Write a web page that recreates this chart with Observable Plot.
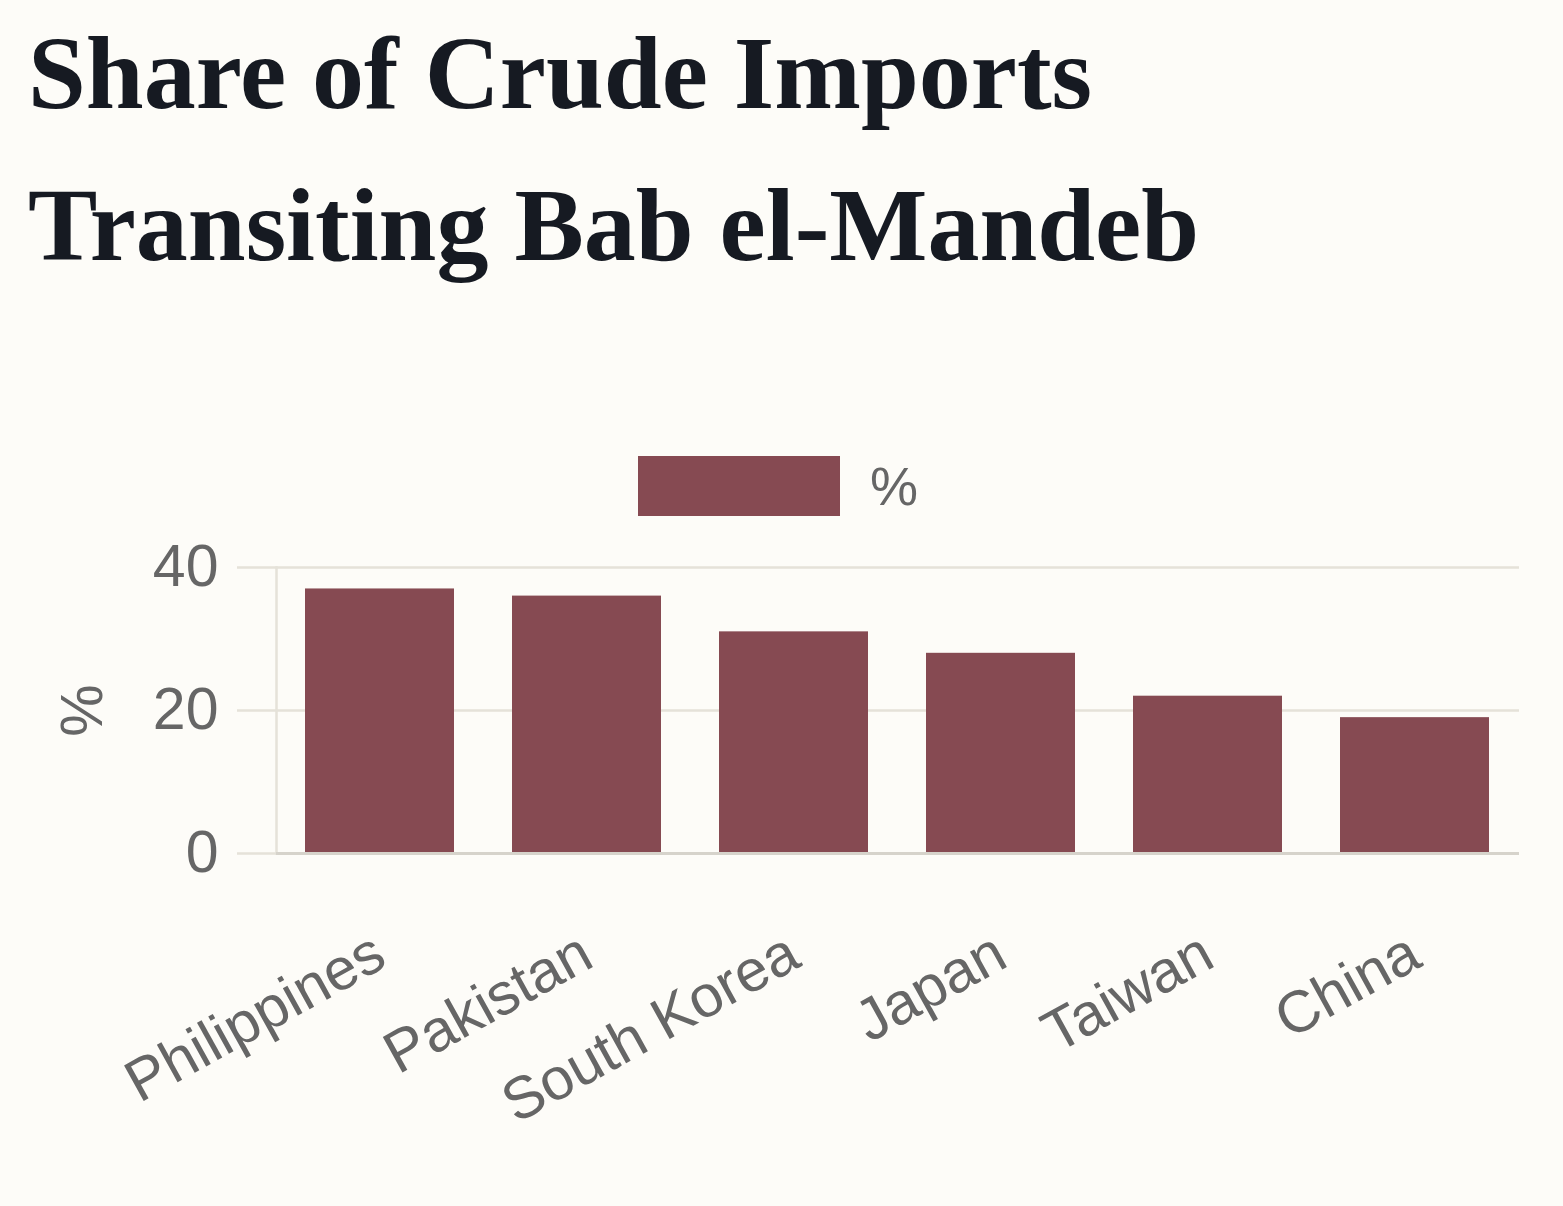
<!DOCTYPE html>
<html>
<head>
<meta charset="utf-8">
<script src="https://cdn.jsdelivr.net/npm/d3@7"></script>
<script src="https://cdn.jsdelivr.net/npm/@observablehq/plot@0.6"></script>
<style>
  html, body { margin: 0; padding: 0; background: #fdfcf8; }
  #wrap { position: relative; width: 1563px; height: 1206px; overflow: hidden; background: #fdfcf8; }
  #title { position: absolute; left: 28px; top: -3px; margin: 0;
    font-family: "Liberation Serif", "DejaVu Serif", serif; font-weight: bold;
    font-size: 104px; line-height: 152px; color: #161a22; white-space: nowrap; }
  #legend { position: absolute; left: 638px; top: 456px; display: flex; align-items: center; }
  #legend .sw { width: 202px; height: 60px; background: #864a52; }
  #legend .lb { margin-left: 30px; font-family: "Liberation Sans", Arial, sans-serif; font-size: 54px; color: #666; line-height: 60px; }
  #chart { position: absolute; left: 0; top: 530px; }
</style>
</head>
<body>
<div id="wrap">
  <h1 id="title">Share of Crude Imports<br>Transiting Bab el-Mandeb</h1>
  <div id="legend"><div class="sw"></div><div class="lb">%</div></div>
  <div id="chart"></div>
</div>
<script>
const countries = ["Philippines", "Pakistan", "South Korea", "Japan", "Taiwan", "China"];
const shares = [37, 36, 31, 28, 22, 19];
const yTicks = [0, 20, 40];

const data = countries.map((c, i) => ({country: c, share: shares[i]}));

const chart = Plot.plot({
  width: 1563,
  height: 676,
  marginTop: 37,
  marginBottom: 353,
  marginLeft: 276,
  marginRight: 44,
  style: {background: "transparent", fontFamily: "'Liberation Sans', Arial, sans-serif", color: "#666", overflow: "visible"},
  x: {domain: countries, paddingInner: 0.28, paddingOuter: 0.14},
  y: {domain: [0, 40]},
  marks: [
    Plot.gridY(yTicks, {stroke: "#e5e2d9", strokeOpacity: 1, strokeWidth: 2.5}),
    Plot.frame({anchor: "left", stroke: "#e5e2d9", strokeWidth: 2.5}),
    Plot.barY(data, {x: "country", y: "share", fill: "#864a52"}),
    Plot.ruleY([0], {stroke: "#d6d3cb", strokeWidth: 3}),
    Plot.axisY(yTicks, {tickSize: 39, tickPadding: 19, fontSize: 59, stroke: "#e5e2d9", strokeWidth: 2.5, fill: "#666",
      label: "%", labelAnchor: "center", labelOffset: 216, labelArrow: "none"}),
    Plot.axisX({tickRotate: -29, tickSize: 0, tickPadding: 95, fontSize: 59, fill: "#666", label: null})
  ]
});
document.getElementById("chart").appendChild(chart);
</script>
</body>
</html>
